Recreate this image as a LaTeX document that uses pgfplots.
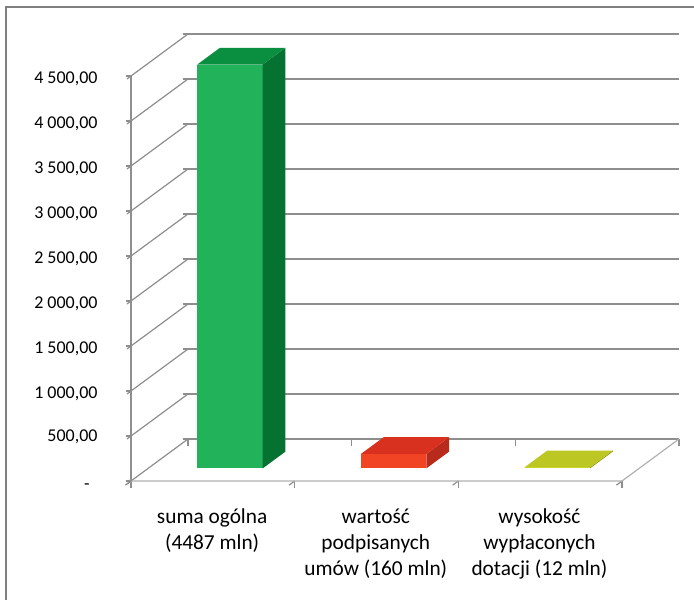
\documentclass[border=0pt]{standalone}
\usepackage{pgfplots}
\pgfplotsset{compat=1.18}
\usepackage{fontspec}
\setmainfont{Carlito}

\definecolor{gridgray}{HTML}{8E8E8E}
\definecolor{framegray}{HTML}{7F7F7F}
\definecolor{gfront}{HTML}{22B259}
\definecolor{gtop}{HTML}{0A8F41}
\definecolor{gside}{HTML}{067232}
\definecolor{rfront}{HTML}{F04425}
\definecolor{rtop}{HTML}{D93120}
\definecolor{rside}{HTML}{B82A1B}
\definecolor{yfront}{HTML}{D6DB2A}
\definecolor{ytop}{HTML}{BCC723}
\definecolor{yside}{HTML}{8F9A1B}

% one 3D column: x from, x to, value, front/top/side colours
\newcommand{\column}[6]{%
  \addplot3[fill=#4,draw=none,forget plot] coordinates {(#1,0.3,0) (#2,0.3,0) (#2,0.3,#3) (#1,0.3,#3)};
  \addplot3[fill=#6,draw=none,forget plot] coordinates {(#2,0.3,0) (#2,0.7,0) (#2,0.7,#3) (#2,0.3,#3)};
  \addplot3[fill=#5,draw=none,forget plot] coordinates {(#1,0.3,#3) (#2,0.3,#3) (#2,0.7,#3) (#1,0.7,#3)};
}

\begin{document}
\begin{tikzpicture}[x=0.75pt,y=0.75pt]
  \path[use as bounding box] (0,0) rectangle (694,600);
  \draw[framegray,line width=0.9pt] (6,0) -- (6,593) -- (694,593);
  \begin{axis}[
    at={(98.25pt,89.25pt)},
    anchor=origin,
    x={(122.75pt,0pt)},
    y={(42.75pt,31.5pt)},
    z={(0pt,0.0675pt)},
    xmin=0,xmax=3,ymin=0,ymax=1,zmin=0,zmax=4500,
    clip=false,
    font=\fontsize{13.5}{19.5}\selectfont,
    axis line style={draw=none},
    zmajorgrids=true,
    major grid style={gridgray,line width=0.9pt},
    tick align=outside,
    tick pos=left,
    major tick length=3.75pt,
    tick style={gridgray,line width=0.9pt},
    ytick=\empty,
    xtick={0.5,1.5,2.5},
    xtick style={draw=none},
    xticklabels={{suma ogólna\\(4487 mln)},{wartość\\podpisanych\\umów (160 mln)},{wysokość\\wypłaconych\\dotacji (12 mln)}},
    x tick label style={font=\fontsize{16}{19.5}\selectfont,align=center,anchor=north,xshift=2.5pt,yshift=-15pt},
    z tick label style={xshift=-18.5pt,yshift=9pt},
    extra x ticks={0,1,2,3},
    extra x tick labels={},
    extra x tick style={major tick length=5.25pt,xtick style={draw=gridgray,line width=0.9pt}},
    ztick={0,500,1000,1500,2000,2500,3000,3500,4000,4500},
    zticklabels={{\vphantom{0,}\raisebox{-6.75pt}[0pt][0pt]{-}\kern6pt},{500,00},{1~000,00},{1~500,00},{2~000,00},{2~500,00},{3~000,00},{3~500,00},{4~000,00},{4~500,00}},
  ]
    % floor edges and value axis
    \addplot3[gridgray!70,line width=0.9pt,forget plot] coordinates {(0,0,0) (3,0,0) (3,1,0)};
    \addplot3[gridgray,line width=0.9pt,forget plot] coordinates {(0,0,0) (0,0,4500)};
    \column{0.30}{0.70}{4487}{gfront}{gtop}{gside}
    \column{1.30}{1.70}{160}{rfront}{rtop}{rside}
    \column{2.30}{2.70}{12}{yfront}{ytop}{yside}
  \end{axis}
\end{tikzpicture}
\end{document}
